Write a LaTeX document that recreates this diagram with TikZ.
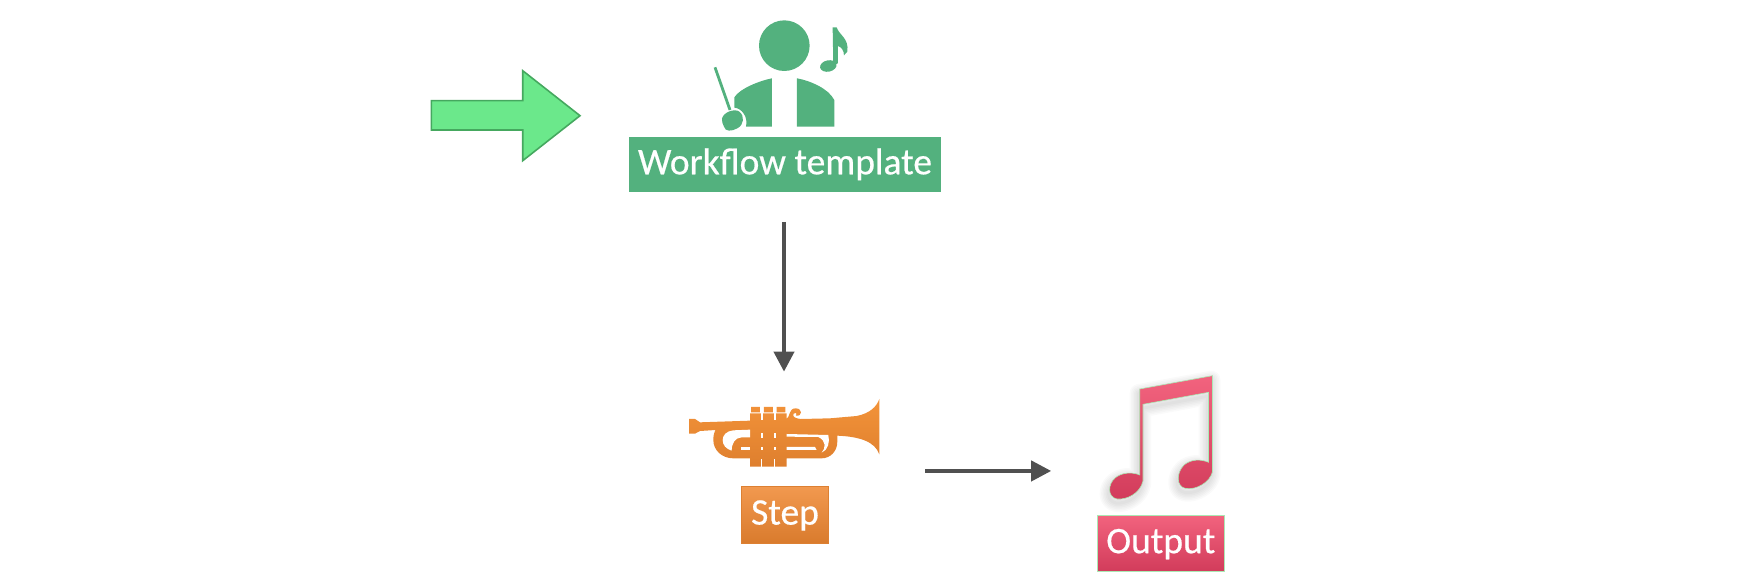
\documentclass[tikz,border=0pt]{standalone}
\usepackage{fontspec}
\newfontfamily\labelfont{Carlito}[FakeBold=0.5]
\usetikzlibrary{arrows.meta,positioning}

\definecolor{leaf}{HTML}{53B17E}
\definecolor{arrowfill}{HTML}{6BE88B}
\definecolor{arrowline}{HTML}{45A85F}
\definecolor{arrowgray}{HTML}{505050}
\definecolor{hornTop}{HTML}{F39339}
\definecolor{hornBottom}{HTML}{DE7F2E}
\definecolor{stepTop}{HTML}{F2994F}
\definecolor{stepBottom}{HTML}{D97B2D}
\definecolor{noteTop}{HTML}{F2637E}
\definecolor{noteBottom}{HTML}{D23C5B}
\definecolor{paleline}{HTML}{ABE8B4}

\tikzset{
    labelbox/.style={rectangle, inner sep=0pt, outer sep=0pt, text=white,
        text height=20pt, text depth=0pt,
        font=\labelfont\fontsize{37.5}{42}\selectfont},
    iconbox/.style={rectangle, inner sep=0pt, outer sep=0pt},
    flowline/.style={draw=arrowgray, line width=4pt, -{Triangle[length=20pt,width=20pt]}},
    gap/.style={fill=white, draw=none},
}

\begin{document}
\begin{tikzpicture}[x=1pt, y=-1pt]
    \useasboundingbox (0,0) rectangle (1746,588);

    \draw[fill=arrowfill, draw=arrowline, line width=1.6pt, line join=miter]
        (431.3,100.7) -- (522.7,100.7) -- (522.7,70.7) -- (580,115.7)
        -- (522.7,160.7) -- (522.7,130) -- (431.3,130) -- cycle;

    \node[labelbox, fill=leaf, minimum width=312pt, minimum height=54.7pt] (template) at (785,164.3) {Workflow template};
    \node[iconbox, minimum width=191pt, minimum height=60pt, below=215.3pt of template] (trumpet) {};
    \node[labelbox, top color=stepTop, bottom color=stepBottom, draw=stepBottom!85!stepTop, line width=.8pt,
        minimum width=86.7pt, minimum height=56.7pt, below=19.3pt of trumpet] (stepLabel) {Step};
    \node[iconbox, minimum width=103pt, minimum height=124pt] (notes) at (1161.5,438) {};
    \node[labelbox, top color=noteTop, bottom color=noteBottom, draw=paleline, line width=.8pt,
        minimum width=127pt, minimum height=55.7pt] (outputLabel) at (1160.8,543.2) {Output};

    \begin{scope}[shift={(620,10)}, x=.3333pt, y=-.3333pt, fill=leaf]
        \fill (493,107) circle [radius=76];
        \fill (456,205) -- (456,350) -- (378,350) .. controls (385,320) and (365,295) .. (343,293)
            -- (343,262) .. controls (360,235) and (420,212) .. (456,205) -- cycle;
        \fill (531,205) -- (531,350) -- (643,350) -- (643,270)
            .. controls (625,235) and (570,212) .. (531,205) -- cycle;
        \draw[leaf, line width=2.8pt] (285,172) -- (330,300);
        \fill (306,325) .. controls (312,305) and (345,295) .. (358,305)
            .. controls (375,318) and (372,345) .. (352,355)
            .. controls (335,365) and (315,365) .. (312,350) .. controls (308,342) and (305,335) .. (306,325) -- cycle;
        \fill (638,52) -- (650,52) .. controls (657,75) and (688,85) .. (682,125) -- (672,136)
            .. controls (672,122) and (665,112) .. (654,108) -- (654,160) -- (640,165) -- cycle;
        \fill[rotate around={12:(625,168)}] (625,168) ellipse [x radius=25, y radius=17];
    \end{scope}

    \begin{scope}[shift={(680,385)}, x=.3333pt, y=-.3333pt]
        \shade[top color=hornTop, bottom color=hornBottom]
            (27,102) -- (45,102) -- (60,112) -- (210,107) -- (210,85) -- (320,85) -- (320,103)
            -- (450,100) -- (530,93) .. controls (570,85) and (590,65) .. (598,42) -- (598,208)
            .. controls (585,170) and (540,155) .. (472,152) -- (472,170)
            .. controls (472,200) and (450,220) .. (425,220) -- (320,220) -- (320,245) -- (210,245)
            -- (210,220) -- (160,220) .. controls (125,220) and (100,195) .. (100,165)
            .. controls (100,150) and (103,140) .. (107,135) -- (60,138) -- (45,146) -- (27,146) -- cycle
            (213,66) rectangle (240,82)
            (252,66) rectangle (279,82)
            (290,66) rectangle (316,82)
            (318,104) .. controls (332,95) and (325,70) .. (347,70)
            .. controls (368,70) and (368,95) .. (348,92)
            .. controls (352,84) and (346,80) .. (341,86) .. controls (336,95) and (345,100) .. (362,102) -- cycle;
        \fill[gap] (210,134) -- (210,157) -- (185,157) .. controls (165,158) and (155,175) .. (155,197)
            .. controls (138,192) and (128,180) .. (128,165) .. controls (128,150) and (140,138) .. (160,136) -- cycle;
        \fill[gap] (183,186) -- (210,186) -- (210,195) -- (183,195) -- cycle;
        \fill[gap] (320,186) -- (405,186) -- (410,195) -- (320,195) -- cycle;
        \fill[gap] (320,147) -- (445,150) .. controls (450,170) and (445,195) .. (425,203)
            .. controls (437,190) and (440,168) .. (415,156) -- (320,155) -- cycle;
        \foreach \slitx in {243,282} {
            \fill[gap] (\slitx+1,66) rectangle (\slitx+7,105);
            \fill[gap] (\slitx,143) rectangle (\slitx+6,160);
            \fill[gap] (\slitx,187) rectangle (\slitx+6,195);
            \fill[gap] (\slitx+1,222) rectangle (\slitx+4,245);
        }
    \end{scope}

    \def\notepath{(1139.7,389) -- (1212.5,375.7) -- (1212.5,471.7)
        .. controls (1210,482) and (1197,490) .. (1186,488.5)
        .. controls (1176,487) and (1176,473) .. (1184,465)
        .. controls (1191,459) and (1201,459) .. (1208.5,462.3)
        -- (1208.5,392.3) -- (1143,404.3) -- (1143,481)
        .. controls (1140,494) and (1126,500) .. (1117,499)
        .. controls (1107,497) and (1108,484) .. (1115,478)
        .. controls (1122,472) and (1133,472) .. (1139.7,475) -- cycle}
    \foreach \spread in {3,6,...,18} {
        \draw[black, opacity=.02, line width=\spread pt, line join=round, shift={(-1,4)}] \notepath;
    }
    \draw[top color=noteTop, bottom color=noteBottom, draw=paleline, line width=.6pt] \notepath;

    \draw[flowline, shorten <=30.3pt, shorten >=35.3pt] ([xshift=-1pt]template.south) -- ([xshift=-1pt]trumpet.north);
    \coordinate (hornexit) at ([yshift=-4pt]trumpet.south east);
    \draw[flowline, shorten <=44.5pt, shorten >=58.8pt] (hornexit) -- (hornexit -| notes.west);
\end{tikzpicture}
\end{document}
